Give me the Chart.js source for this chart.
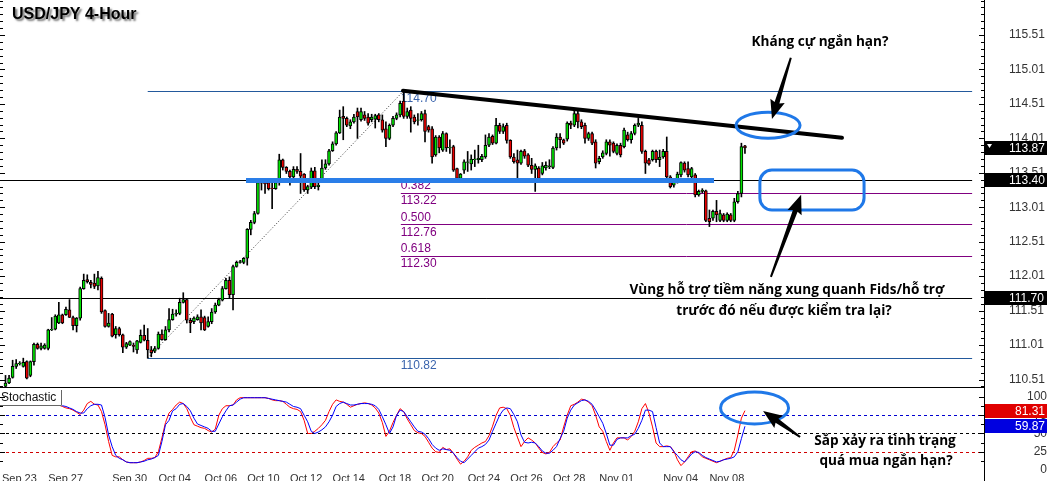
<!DOCTYPE html>
<html lang="vi">
<head>
<meta charset="utf-8">
<title>USD/JPY 4-Hour</title>
<script src="https://cdn.jsdelivr.net/npm/chart.js@4.4.1/dist/chart.umd.min.js"></script>
<style>
    body { margin: 0; background: #fff; }
    .khung { position: relative; width: 1047px; height: 481px; overflow: hidden; background: #fff; }
    .khung canvas { position: absolute; left: 0; }
    #priceChart { top: 0; }
    #stochChart { top: 388px; }
</style>
</head>
<body>
<div class="khung">
    <canvas id="priceChart" width="1047" height="388"></canvas>
    <canvas id="stochChart" width="1047" height="93"></canvas>
</div>
<script>
// Dữ liệu nến 4 giờ USD/JPY (ước lượng)
const opens = [
    110.41,110.46,110.54,110.70,110.74,110.70,110.77,110.57,110.77,111.02,
    110.96,110.96,110.96,111.23,111.24,111.33,111.45,111.45,111.52,111.41,
    111.29,111.40,111.83,111.96,111.92,111.91,111.87,111.98,111.51,111.28,
    111.46,111.16,111.25,111.16,110.98,111.01,111.01,110.94,111.05,111.15,
    111.08,110.94,110.92,110.96,111.17,111.09,111.23,111.38,111.46,111.47,
    111.63,111.67,111.37,111.35,111.38,111.42,111.41,111.28,111.35,111.49,
    111.59,111.66,111.83,111.95,111.74,112.15,112.21,112.21,112.27,112.69,
    112.79,112.92,113.37,113.36,113.37,113.29,113.28,113.37,113.70,113.59,
    113.53,113.45,113.56,113.53,113.49,113.26,113.30,113.54,113.31,113.40,
    113.58,113.64,113.83,113.93,114.09,114.33,114.30,114.19,114.25,114.40,
    114.28,114.35,114.32,114.28,114.29,114.35,114.28,114.15,114.01,114.20,
    114.30,114.35,114.55,114.33,114.42,114.32,114.27,114.28,114.37,114.18,
    114.15,113.77,114.03,113.84,114.08,113.87,113.89,113.57,113.43,113.55,
    113.66,113.64,113.70,113.70,113.70,113.74,113.91,114.04,113.94,114.20,
    114.11,114.20,113.98,113.74,113.70,113.65,113.83,113.77,113.62,113.56,
    113.58,113.50,113.58,113.60,113.59,113.87,114.03,113.99,114.00,114.23,
    114.20,114.37,114.25,114.20,114.01,114.08,113.96,113.67,113.74,113.79,
    113.96,113.94,113.79,113.91,113.89,114.06,113.99,114.08,114.20,114.20,
    113.82,113.70,113.70,113.82,113.70,113.74,113.82,113.45,113.33,113.38,
    113.48,113.65,113.57,113.45,113.48,113.19,113.24,113.25,112.85,112.85,
    112.95,112.82,112.90,112.82,112.90,112.82,113.09,113.21,113.90
];
const highs = [
    110.57,110.57,110.79,110.80,110.77,110.82,110.78,110.78,111.04,111.04,
    111.04,111.03,111.24,111.41,111.45,111.63,111.46,111.56,111.67,111.43,
    111.41,111.85,112.04,112.03,111.95,112.04,112.08,112.00,111.52,111.47,
    111.47,111.28,111.27,111.17,111.05,111.07,111.04,111.08,111.23,111.30,
    111.25,110.99,110.99,111.20,111.23,111.28,111.54,111.53,111.52,111.69,
    111.77,111.68,111.40,111.42,111.45,111.52,111.43,111.42,111.54,111.62,
    111.69,111.86,111.98,112.00,112.17,112.23,112.24,112.28,112.70,112.82,
    112.95,113.38,113.40,113.40,113.40,113.36,113.40,113.78,113.71,113.60,
    113.55,113.60,113.60,113.79,113.50,113.33,113.58,113.59,113.40,113.70,
    113.70,113.85,113.96,114.11,114.42,114.47,114.32,114.28,114.36,114.45,
    114.45,114.40,114.37,114.36,114.36,114.37,114.35,114.25,114.22,114.33,
    114.38,114.55,114.70,114.45,114.47,114.35,114.37,114.40,114.42,114.20,
    114.18,114.05,114.05,114.11,114.09,113.99,113.91,113.58,113.50,113.70,
    113.82,113.77,113.84,113.91,113.78,114.06,114.08,114.06,114.30,114.23,
    114.22,114.23,113.99,113.79,113.84,113.84,113.85,113.79,113.72,113.64,
    113.60,113.66,113.67,113.70,113.89,114.08,114.08,114.00,114.25,114.26,
    114.42,114.42,114.28,114.23,114.10,114.10,113.99,113.75,113.83,113.99,
    113.99,113.96,113.93,113.94,114.16,114.10,114.11,114.22,114.30,114.25,
    113.84,113.72,113.84,113.84,113.84,113.85,114.03,113.47,113.43,113.52,
    113.67,113.67,113.67,113.59,113.50,113.26,113.28,113.26,112.97,112.97,
    113.11,112.97,112.92,112.93,112.92,113.14,113.24,113.94,113.91
];
const lows = [
    110.40,110.45,110.53,110.67,110.72,110.69,110.52,110.55,110.72,110.95,
    110.94,110.95,110.94,111.22,111.23,111.32,111.32,111.44,111.41,111.23,
    111.20,111.37,111.82,111.91,111.84,111.83,111.81,111.47,111.27,111.27,
    111.13,111.11,111.14,110.90,110.96,111.00,110.91,110.89,111.04,111.07,
    110.82,110.84,110.90,110.95,111.08,111.08,111.20,111.37,111.43,111.45,
    111.62,111.33,111.19,111.32,111.37,111.23,111.22,111.27,111.32,111.47,
    111.58,111.65,111.82,111.69,111.52,112.14,112.20,112.19,112.17,112.61,
    112.77,112.91,113.26,113.21,113.26,112.99,113.27,113.33,113.55,113.50,
    113.33,113.43,113.50,113.21,113.24,113.21,113.28,113.28,113.26,113.39,
    113.56,113.62,113.82,113.91,114.08,113.99,114.18,114.15,114.23,114.01,
    114.26,114.27,114.20,114.25,114.16,114.25,114.10,113.89,113.99,114.18,
    114.28,114.32,114.30,114.30,114.10,114.22,114.20,114.26,113.96,114.10,
    113.65,113.75,113.80,113.82,113.82,113.79,113.53,113.42,113.42,113.50,
    113.53,113.55,113.60,113.65,113.67,113.72,113.89,113.92,113.93,114.08,
    114.08,113.94,113.72,113.65,113.42,113.63,113.72,113.60,113.50,113.24,
    113.40,113.48,113.55,113.57,113.57,113.84,113.87,113.92,113.97,114.15,
    114.18,114.16,114.15,113.94,113.98,113.92,113.58,113.64,113.72,113.77,
    113.75,113.80,113.77,113.74,113.87,113.97,113.94,114.06,114.18,113.79,
    113.50,113.62,113.68,113.66,113.60,113.72,113.43,113.29,113.30,113.36,
    113.45,113.52,113.45,113.43,113.16,113.17,113.22,112.80,112.73,112.82,
    112.80,112.80,112.80,112.80,112.80,112.80,113.07,113.16,113.79
];
const closes = [
    110.46,110.53,110.70,110.74,110.75,110.76,110.53,110.77,111.02,110.96,
    111.00,111.01,111.23,111.24,111.43,111.45,111.33,111.53,111.41,111.29,
    111.40,111.83,111.95,111.93,111.89,111.86,111.99,111.49,111.28,111.33,
    111.14,111.25,111.16,110.98,111.03,111.06,110.99,111.07,111.15,111.08,
    110.94,110.90,110.96,111.17,111.09,111.23,111.38,111.46,111.47,111.63,
    111.67,111.37,111.33,111.40,111.42,111.33,111.23,111.35,111.49,111.59,
    111.67,111.83,111.95,111.74,112.15,112.21,112.22,112.27,112.69,112.79,
    112.92,113.37,113.36,113.35,113.28,113.28,113.37,113.70,113.59,113.53,
    113.45,113.56,113.53,113.46,113.26,113.31,113.54,113.31,113.33,113.58,
    113.64,113.83,113.93,114.09,114.32,114.30,114.20,114.25,114.32,114.32,
    114.40,114.30,114.23,114.32,114.34,114.28,114.13,114.01,114.20,114.30,
    114.35,114.52,114.33,114.40,114.30,114.25,114.28,114.37,114.11,114.13,
    113.74,114.03,113.87,114.08,113.87,113.88,113.55,113.43,113.49,113.67,
    113.67,113.71,113.71,113.72,113.75,113.91,114.03,113.94,114.20,114.11,
    114.18,113.98,113.74,113.67,113.65,113.82,113.75,113.62,113.56,113.61,
    113.43,113.61,113.62,113.61,113.87,114.03,113.99,113.94,114.23,114.20,
    114.37,114.25,114.18,114.01,114.08,113.94,113.65,113.72,113.80,113.96,
    113.91,113.82,113.91,113.77,114.13,113.99,114.08,114.20,114.23,113.82,
    113.65,113.64,113.82,113.70,113.74,113.82,113.45,113.31,113.41,113.49,
    113.66,113.55,113.48,113.57,113.19,113.24,113.26,112.82,112.80,112.95,
    112.90,112.92,112.82,112.91,112.82,113.09,113.21,113.89,113.87
];

// Stochastic: đường chính (đỏ) và đường tín hiệu (xanh)
const stochMain = [
    99,99,98,98,98,96,95,94,93,94,
    94,94,93,91,90,89,87,85,84,82,
    79,76,82,91,94,90,89,80,62,39,
    20,18,18,14,11,10,10,10,11,13,
    16,16,17,25,44,65,78,83,89,93,
    91,84,72,62,60,58,57,54,52,56,
    75,84,88,88,89,96,99,99,99,99,
    99,99,99,99,98,96,95,95,94,90,
    86,84,83,80,68,50,50,53,57,62,
    68,80,90,96,94,93,90,86,88,90,
    91,92,91,89,85,78,65,46,53,65,
    75,84,80,70,62,54,51,50,46,38,
    30,25,24,31,28,29,23,15,8,12,
    18,27,31,34,37,39,47,60,75,85,
    86,84,75,58,45,32,39,44,41,37,
    30,24,22,24,32,37,41,59,75,88,
    90,93,97,96,93,88,75,59,53,39,
    27,37,44,44,44,41,46,53,66,84,
    91,78,59,37,32,32,33,32,26,14,
    6,11,18,25,26,23,18,16,14,12,
    10,12,14,16,17,27,48,71,81.31
];
const stochSignal = [
    100,99,99,98,98,97,96,96,95,95,
    94,94,93,92,90,89,88,87,85,83,
    80,78,78,84,88,90,90,89,72,48,
    32,20,16,14,11,10,10,10,11,12,
    14,15,17,20,39,62,68,81,84,90,
    91,87,81,71,63,61,59,57,53,53,
    63,73,81,88,89,93,97,99,99,99,
    99,99,99,99,98,97,96,95,94,93,
    90,87,86,84,75,66,53,50,52,55,
    59,66,75,87,91,93,91,89,89,90,
    91,91,91,90,88,83,73,62,50,59,
    75,82,80,73,66,59,53,52,49,43,
    35,30,27,29,28,27,23,17,12,10,
    15,20,25,30,32,35,41,53,64,75,
    82,85,84,76,66,48,38,37,38,37,
    32,26,23,23,27,32,43,53,71,82,
    89,92,95,96,94,90,82,73,64,50,
    34,34,42,44,44,44,47,49,57,68,
    82,82,80,58,37,32,32,32,25,20,
    14,11,16,22,25,24,20,17,15,13,
    11,12,14,15,16,18,25,43,59.87
];

// Nhãn thời gian và vị trí (chỉ số nến) của chúng
const timeLabels = ['Sep 23', 'Sep 27', 'Sep 30', 'Oct 04', 'Oct 06', 'Oct 10', 'Oct 12', 'Oct 14',
    'Oct 18', 'Oct 20', 'Oct 24', 'Oct 26', 'Oct 28', 'Nov 01', 'Nov 04', 'Nov 08'];
const timeLabelBars = [-1, 12, 30, 43, 56, 68, 80, 92, 105, 117, 130, 142, 154, 167, 185, 198];

// Nhãn trục giá và trục stochastic
const priceTicks = [110.51, 111.01, 111.51, 112.01, 112.51, 113.01, 113.51, 114.01, 114.51, 115.01, 115.51];
const stochTicks = [0, 25, 50, 75, 100];

// Các mức giá vẽ trên biểu đồ
const blackLevels = [113.40, 111.70];
const blueLevels = [114.70, 110.82];
const fibLevels = [113.22, 112.76, 112.30];
const fibRatios = ['0.382', '0.500', '0.618'];
const stochLevels = [75, 50, 25];

// Khung hiển thị
const X_MIN = -1.55;
const X_MAX = 275.24;
const PRICE_MIN = 110.387;
const PRICE_MAX = 116.018;
const STOCH_MAX = 112.3;

const LOW_BAR = 40;
const HIGH_BAR = 112;
const FIB_BAR = 111.2;
const LINE_END = 271.9;

const AXIS_FONT = '"Liberation Sans", Arial, sans-serif';
const NOTE_FONT = 'bold 13.6px "Open Sans", "Noto Sans", sans-serif';
const NOTE_BLUE = '#1f78e8';

document.addEventListener('DOMContentLoaded', () => {
    initializePriceChart();
    initializeStochChart();
});

// Mũi tên đen thon dần
function drawArrow(ctx, x1, y1, x2, y2) {
    const ang = Math.atan2(y2 - y1, x2 - x1);
    const len = Math.hypot(x2 - x1, y2 - y1);
    ctx.save();
    ctx.translate(x1, y1);
    ctx.rotate(ang);
    ctx.beginPath();
    ctx.moveTo(0, -1);
    ctx.lineTo(len - 17, -2.5);
    ctx.lineTo(len - 19, -7.5);
    ctx.lineTo(len, 0);
    ctx.lineTo(len - 19, 7.5);
    ctx.lineTo(len - 17, 2.5);
    ctx.lineTo(0, 1);
    ctx.closePath();
    ctx.fillStyle = '#000';
    ctx.fill();
    ctx.restore();
}

function roundRectPath(ctx, x, y, w, h, r) {
    ctx.beginPath();
    ctx.moveTo(x + r, y);
    ctx.arcTo(x + w, y, x + w, y + h, r);
    ctx.arcTo(x + w, y + h, x, y + h, r);
    ctx.arcTo(x, y + h, x, y, r);
    ctx.arcTo(x, y, x + w, y, r);
    ctx.closePath();
}

// Vạch chia nhỏ ở mép trái và trục phải
function drawAxisTicks(ctx, yScale, from, to, step, majors, area) {
    ctx.save();
    ctx.strokeStyle = '#000';
    ctx.lineWidth = 1;
    for (let v = from; v <= to + 1e-6; v += step) {
        const yy = Math.round(yScale.getPixelForValue(v)) + 0.5;
        if (yy < area.top || yy > area.bottom) continue;
        const major = majors.some(m => Math.abs(m - v) < 1e-6);
        const len = major ? 5 : 3;
        ctx.beginPath();
        ctx.moveTo(area.right - len, yy);
        ctx.lineTo(area.right, yy);
        ctx.moveTo(0, yy);
        ctx.lineTo(len, yy);
        ctx.stroke();
    }
    ctx.restore();
}

function drawValueBox(ctx, yy, text, bg, left, alignRight) {
    ctx.save();
    ctx.fillStyle = bg;
    ctx.fillRect(left + 1, Math.round(yy) - 7, 1047 - left - 1, 14);
    ctx.fillStyle = '#fff';
    ctx.font = '12px ' + AXIS_FONT;
    ctx.textBaseline = 'middle';
    if (alignRight) {
        ctx.textAlign = 'right';
        ctx.fillText(text, 1045, Math.round(yy) + 0.5);
    } else {
        ctx.textAlign = 'left';
        ctx.fillText(text, left + 25, Math.round(yy) + 0.5);
    }
    ctx.restore();
}

// Chú thích trên khung giá
const priceDecor = {
    id: 'priceDecor',
    beforeDatasetsDraw(chart) {
        const { ctx, scales: { x, y } } = chart;
        const hline = (price, from, color) => {
            const yy = Math.round(y.getPixelForValue(price)) + 0.5;
            ctx.strokeStyle = color;
            ctx.beginPath();
            ctx.moveTo(x.getPixelForValue(from), yy);
            ctx.lineTo(x.getPixelForValue(LINE_END), yy);
            ctx.stroke();
        };
        ctx.save();
        ctx.lineWidth = 1;
        blackLevels.forEach(p => hline(p, X_MIN, '#000'));
        blueLevels.forEach(p => hline(p, LOW_BAR, '#23599c'));
        fibLevels.forEach(p => hline(p, FIB_BAR, '#800080'));

        // đường chéo nối đáy - đỉnh
        ctx.setLineDash([1, 2]);
        ctx.strokeStyle = '#333';
        ctx.beginPath();
        ctx.moveTo(x.getPixelForValue(LOW_BAR), y.getPixelForValue(blueLevels[1]));
        ctx.lineTo(x.getPixelForValue(HIGH_BAR), y.getPixelForValue(blueLevels[0]));
        ctx.stroke();
        ctx.setLineDash([]);

        // nhãn các mức
        ctx.font = '12px ' + AXIS_FONT;
        ctx.textBaseline = 'middle';
        ctx.textAlign = 'left';
        const lx = x.getPixelForValue(FIB_BAR);
        ctx.fillStyle = '#800080';
        fibLevels.forEach((p, i) => {
            const yy = y.getPixelForValue(p);
            ctx.fillText(fibRatios[i], lx, yy - 7);
            ctx.fillText(p.toFixed(2), lx, yy + 8);
        });
        ctx.fillStyle = '#3a64ad';
        blueLevels.forEach(p => ctx.fillText(p.toFixed(2), lx, y.getPixelForValue(p) + 8));
        ctx.restore();
    },
    afterDatasetsDraw(chart) {
        const { ctx, scales: { x, y } } = chart;
        ctx.save();
        // vùng hỗ trợ xanh đậm
        ctx.strokeStyle = '#2a7ee8';
        ctx.lineWidth = 5;
        ctx.beginPath();
        ctx.moveTo(x.getPixelForValue(67.65), y.getPixelForValue(blackLevels[0]));
        ctx.lineTo(x.getPixelForValue(199.3), y.getPixelForValue(blackLevels[0]));
        ctx.stroke();

        // đường kháng cự giảm dần
        ctx.strokeStyle = '#000';
        ctx.lineWidth = 4;
        ctx.lineCap = 'round';
        ctx.beginPath();
        ctx.moveTo(x.getPixelForValue(111.8), y.getPixelForValue(114.70));
        ctx.lineTo(x.getPixelForValue(235.3), y.getPixelForValue(114.02));
        ctx.stroke();
        ctx.lineCap = 'butt';

        // vòng elip và khung bo tròn
        ctx.strokeStyle = NOTE_BLUE;
        ctx.lineWidth = 3;
        ctx.beginPath();
        ctx.ellipse(x.getPixelForValue(214.5), y.getPixelForValue(114.20), 32, 13, 0, 0, Math.PI * 2);
        ctx.stroke();
        const rx1 = x.getPixelForValue(212.2), rx2 = x.getPixelForValue(241.5);
        const ry1 = y.getPixelForValue(113.55), ry2 = y.getPixelForValue(112.97);
        roundRectPath(ctx, rx1, ry1, rx2 - rx1, ry2 - ry1, 12);
        ctx.stroke();

        // mũi tên
        drawArrow(ctx, x.getPixelForValue(220.9), y.getPixelForValue(115.18), x.getPixelForValue(215.6), y.getPixelForValue(114.29));
        drawArrow(ctx, x.getPixelForValue(215.3), y.getPixelForValue(112.00), x.getPixelForValue(223.8), y.getPixelForValue(113.19));

        // chữ chú thích
        ctx.font = NOTE_FONT;
        ctx.fillStyle = '#000';
        ctx.textAlign = 'center';
        ctx.textBaseline = 'middle';
        ctx.fillText('Kháng cự ngắn hạn?', x.getPixelForValue(229.1), y.getPixelForValue(115.41));
        ctx.fillText('Vùng hỗ trợ tiềm năng xung quanh Fids/hỗ trợ', x.getPixelForValue(219.8), y.getPixelForValue(111.81));
        ctx.fillText('trước đó nếu được kiểm tra lại?', x.getPixelForValue(219.0), y.getPixelForValue(111.50));
        ctx.restore();
    },
    afterDraw(chart) {
        const { ctx, chartArea, scales: { y } } = chart;
        drawAxisTicks(ctx, y, 110.41, 116.01, 0.1, priceTicks, chartArea);

        // đường đáy khung giá
        ctx.save();
        ctx.strokeStyle = '#000';
        ctx.beginPath();
        ctx.moveTo(0, chartArea.bottom - 0.5);
        ctx.lineTo(chartArea.right, chartArea.bottom - 0.5);
        ctx.stroke();
        ctx.restore();

        // ô giá bên phải
        const last = closes[closes.length - 1];
        blackLevels.forEach(p => drawValueBox(ctx, y.getPixelForValue(p), p.toFixed(2), '#000', chartArea.right, false));
        const yl = y.getPixelForValue(last);
        drawValueBox(ctx, yl, last.toFixed(2), '#000', chartArea.right, false);
        ctx.save();
        ctx.fillStyle = '#fff';
        ctx.beginPath();
        ctx.moveTo(chartArea.right + 3, yl - 4);
        ctx.lineTo(chartArea.right + 8, yl - 4);
        ctx.lineTo(chartArea.right + 5.5, yl);
        ctx.closePath();
        ctx.fill();
        ctx.restore();

        // tiêu đề
        ctx.save();
        ctx.font = 'bold 16px ' + AXIS_FONT;
        ctx.fillStyle = '#000';
        ctx.shadowColor = 'rgba(0,0,0,0.55)';
        ctx.shadowBlur = 2;
        ctx.shadowOffsetX = 2;
        ctx.shadowOffsetY = 2;
        ctx.textBaseline = 'alphabetic';
        ctx.fillText('USD/JPY 4-Hour', 12, 19);
        ctx.restore();
    }
};

// Chú thích trên khung stochastic
const stochDecor = {
    id: 'stochDecor',
    beforeDatasetsDraw(chart) {
        const { ctx, chartArea, scales: { y } } = chart;
        const colors = ['#0000d0', '#000', '#d00000'];
        ctx.save();
        ctx.lineWidth = 1;
        ctx.setLineDash([3, 3]);
        stochLevels.forEach((v, i) => {
            const yy = Math.round(y.getPixelForValue(v)) + 0.5;
            ctx.strokeStyle = colors[i];
            ctx.beginPath();
            ctx.moveTo(0, yy);
            ctx.lineTo(chartArea.right, yy);
            ctx.stroke();
        });
        ctx.restore();
    },
    afterDatasetsDraw(chart) {
        const { ctx, scales: { x, y } } = chart;
        ctx.save();
        // hộp tên chỉ báo
        ctx.fillStyle = '#fff';
        ctx.fillRect(0, 2, 62, 16);
        ctx.strokeStyle = '#666';
        ctx.lineWidth = 1;
        ctx.beginPath();
        ctx.moveTo(0, 17.5);
        ctx.lineTo(61.5, 17.5);
        ctx.lineTo(61.5, 2);
        ctx.stroke();
        ctx.fillStyle = '#111';
        ctx.font = '12px ' + AXIS_FONT;
        ctx.textBaseline = 'middle';
        ctx.fillText('Stochastic', 1, 10);

        ctx.strokeStyle = NOTE_BLUE;
        ctx.lineWidth = 3;
        ctx.beginPath();
        ctx.ellipse(x.getPixelForValue(210.7), y.getPixelForValue(85), 34, 16, 0, 0, Math.PI * 2);
        ctx.stroke();

        drawArrow(ctx, x.getPixelForValue(223.5), y.getPixelForValue(45.2), x.getPixelForValue(213.1), y.getPixelForValue(80.8));

        ctx.font = NOTE_FONT;
        ctx.fillStyle = '#000';
        ctx.textAlign = 'center';
        ctx.fillText('Sắp xảy ra tình trạng', x.getPixelForValue(247.4), y.getPixelForValue(39.7));
        ctx.fillText('quá mua ngắn hạn?', x.getPixelForValue(247.7), y.getPixelForValue(12.3));
        ctx.restore();
    },
    afterDraw(chart) {
        const { ctx, chartArea, scales: { y } } = chart;
        drawAxisTicks(ctx, y, 0, 110, 12.5, stochTicks, chartArea);
        ctx.save();
        ctx.strokeStyle = '#000';
        ctx.lineWidth = 1;
        ctx.beginPath();
        ctx.moveTo(chartArea.right + 0.5, chartArea.bottom);
        ctx.lineTo(chartArea.right + 0.5, chart.height);
        ctx.stroke();
        ctx.restore();

        const m = stochMain[stochMain.length - 1];
        const s = stochSignal[stochSignal.length - 1];
        drawValueBox(ctx, y.getPixelForValue(m), m.toFixed(2), '#e00000', chartArea.right, true);
        drawValueBox(ctx, y.getPixelForValue(s), s.toFixed(2), '#0000e0', chartArea.right, true);
    }
};

// Biểu đồ nến
function initializePriceChart() {
    const canvas = document.getElementById('priceChart');
    if (!canvas) {
        console.warn('Không tìm thấy #priceChart');
        return;
    }
    const bars = opens.map((_, i) => i);
    const bodies = bars.map(i => ({ x: i, y: [opens[i], closes[i]] }));
    const wicks = bars.map(i => ({ x: i, y: [lows[i], highs[i]] }));
    const bodyColors = bars.map(i => (closes[i] >= opens[i] ? '#00e400' : '#e80000'));

    new Chart(canvas, {
        type: 'bar',
        data: {
            datasets: [
                { label: 'Bóng nến', data: wicks, backgroundColor: '#000', barThickness: 1, grouped: false, order: 2 },
                {
                    label: 'Thân nến', data: bodies, backgroundColor: bodyColors, borderColor: '#000',
                    borderWidth: 1, borderSkipped: false, barThickness: 3, grouped: false, order: 1
                }
            ]
        },
        options: {
            responsive: false,
            animation: false,
            layout: { padding: 0 },
            plugins: { legend: { display: false }, tooltip: { enabled: false } },
            scales: {
                x: { type: 'linear', min: X_MIN, max: X_MAX, offset: false, display: false },
                y: {
                    position: 'right', min: PRICE_MIN, max: PRICE_MAX, beginAtZero: false,
                    afterBuildTicks: s => { s.ticks = priceTicks.map(v => ({ value: v })); },
                    afterFit: s => { s.width = 63; s.paddingTop = 0; s.paddingBottom = 0; },
                    grid: { display: false, drawTicks: false },
                    border: { display: true, color: '#000', width: 1 },
                    ticks: {
                        autoSkip: false, padding: 25, color: '#333',
                        font: { family: AXIS_FONT, size: 12 },
                        callback: v => Number(v).toFixed(2)
                    }
                }
            }
        },
        plugins: [priceDecor]
    });
}

// Biểu đồ Stochastic
function initializeStochChart() {
    const canvas = document.getElementById('stochChart');
    if (!canvas) {
        console.warn('Không tìm thấy #stochChart');
        return;
    }
    new Chart(canvas, {
        type: 'line',
        data: {
            datasets: [
                { label: 'Main', data: stochMain.map((v, i) => ({ x: i, y: v })), borderColor: '#ff0000', borderWidth: 1, pointRadius: 0, tension: 0, order: 2 },
                { label: 'Signal', data: stochSignal.map((v, i) => ({ x: i, y: v })), borderColor: '#0000ff', borderWidth: 1, pointRadius: 0, tension: 0, order: 1 }
            ]
        },
        options: {
            responsive: false,
            animation: false,
            layout: { padding: 0 },
            plugins: { legend: { display: false }, tooltip: { enabled: false } },
            scales: {
                x: {
                    type: 'linear', min: X_MIN, max: X_MAX, offset: false,
                    afterBuildTicks: s => { s.ticks = timeLabelBars.map(v => ({ value: v })); },
                    afterFit: s => { s.height = 11; s.paddingLeft = 0; s.paddingRight = 0; },
                    grid: { display: false, drawTicks: false },
                    border: { display: false },
                    ticks: {
                        autoSkip: false, maxRotation: 0, align: 'start', padding: 2, color: '#333',
                        font: { family: AXIS_FONT, size: 11 },
                        callback: (v, i) => timeLabels[i]
                    }
                },
                y: {
                    position: 'right', min: 0, max: STOCH_MAX,
                    afterBuildTicks: s => { s.ticks = stochTicks.map(v => ({ value: v })); },
                    afterFit: s => { s.width = 63; s.paddingTop = 0; s.paddingBottom = 0; },
                    grid: { display: false, drawTicks: false },
                    border: { display: true, color: '#000', width: 1 },
                    ticks: {
                        autoSkip: false, padding: 25, crossAlign: 'far', color: '#333',
                        font: { family: AXIS_FONT, size: 12 },
                        callback: v => String(v)
                    }
                }
            }
        },
        plugins: [stochDecor]
    });
}
</script>
</body>
</html>
